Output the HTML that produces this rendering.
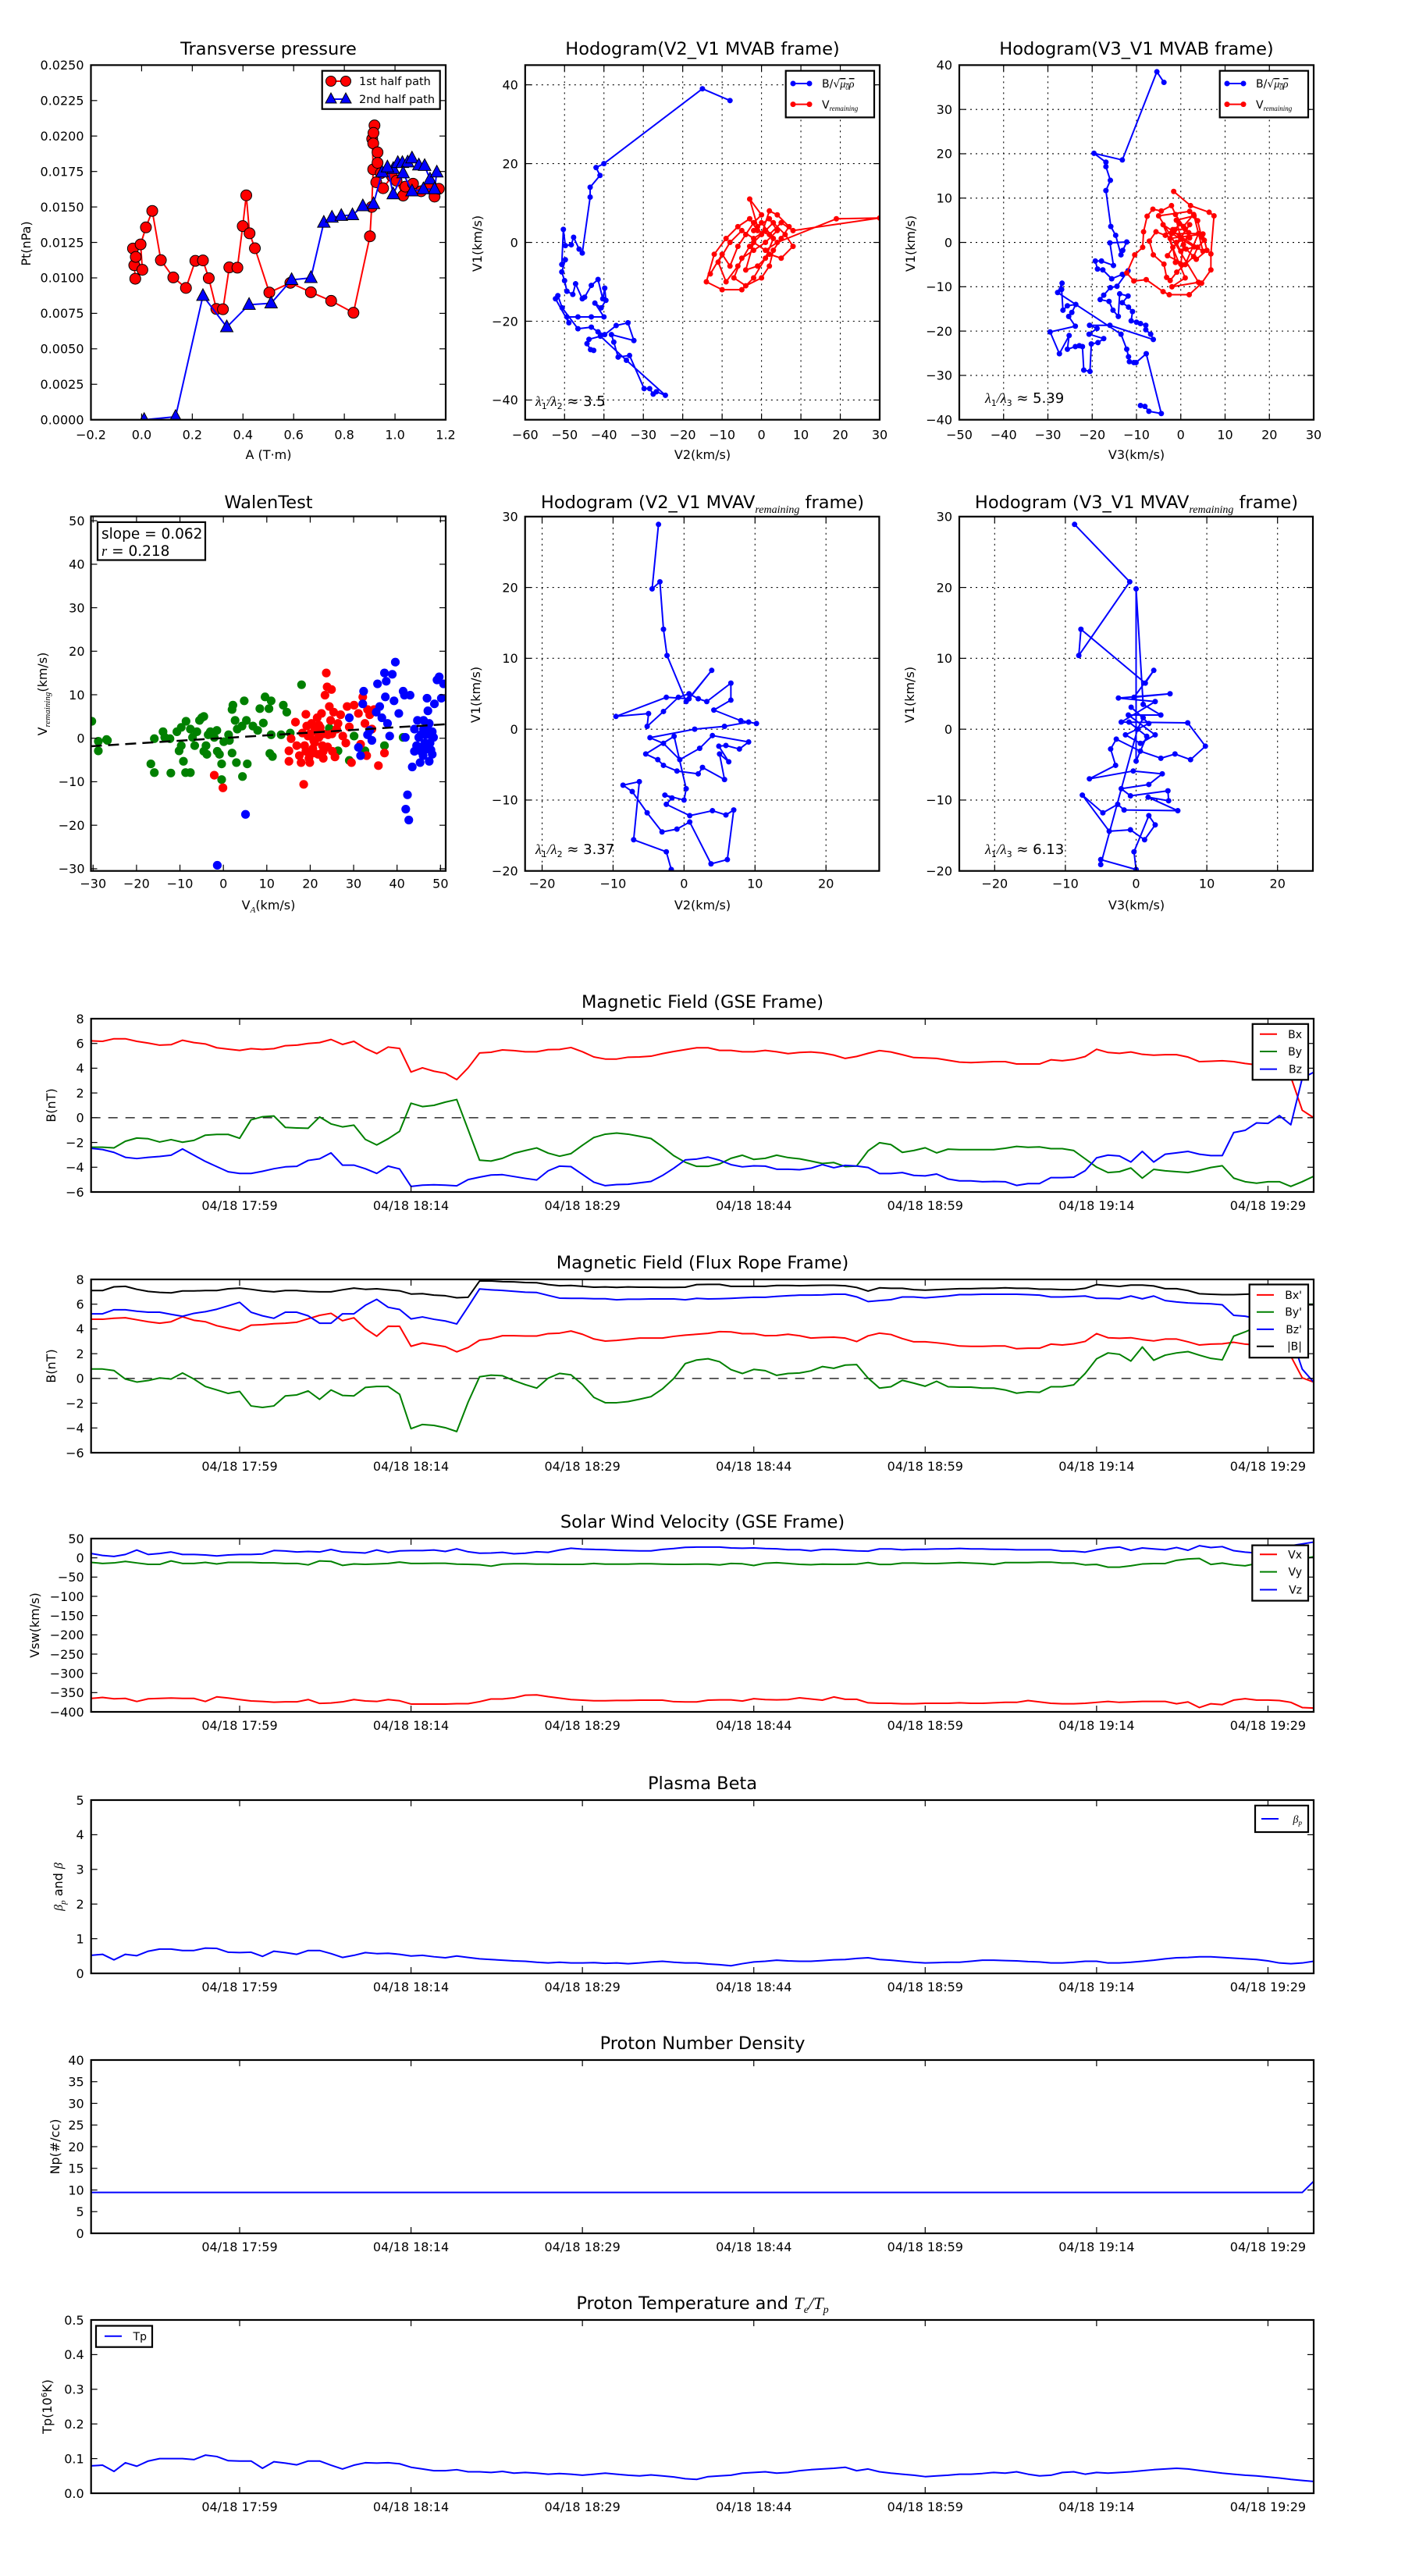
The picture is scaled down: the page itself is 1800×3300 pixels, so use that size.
<!DOCTYPE html>
<html><head><meta charset="utf-8"><title>Flux rope analysis</title>
<style>
html,body{margin:0;padding:0;background:#fff;}
#wrap{width:1800px;height:3300px;position:relative;overflow:hidden;}
svg text{font-family:"DejaVu Sans","Liberation Sans",sans-serif;fill:#000;}
.ttl{font-size:22.5px;}
.lab{font-size:16px;}
.leg{font-size:14.5px;}
.mth{font-family:"Liberation Serif","DejaVu Serif",serif;font-style:italic;}
</style></head>
<body>
<div id="wrap">
<svg id="chart" width="1800" height="3300" viewBox="0 0 1800 3300" xmlns="http://www.w3.org/2000/svg">
<defs id="defs"></defs>
<rect x="0" y="0" width="1800" height="3300" fill="#fff"/>
<g id="plots"></g>

<!-- titles row 1 -->
<text class="ttl" x="344" y="70" text-anchor="middle">Transverse pressure</text>
<text class="ttl" x="900" y="70" text-anchor="middle">Hodogram(V2_V1 MVAB frame)</text>
<text class="ttl" x="1456" y="70" text-anchor="middle">Hodogram(V3_V1 MVAB frame)</text>
<!-- titles row 2 -->
<text class="ttl" x="344" y="651" text-anchor="middle">WalenTest</text>
<text class="ttl" x="900" y="651" text-anchor="middle">Hodogram (V2_V1 MVAV<tspan class="mth" font-size="14" dy="6">remaining</tspan><tspan dy="-6"> frame)</tspan></text>
<text class="ttl" x="1456" y="651" text-anchor="middle">Hodogram (V3_V1 MVAV<tspan class="mth" font-size="14" dy="6">remaining</tspan><tspan dy="-6"> frame)</tspan></text>

<!-- axis labels row 1 -->
<text class="lab" x="344" y="588" text-anchor="middle">A (T·m)</text>
<text class="lab" x="900" y="588" text-anchor="middle">V2(km/s)</text>
<text class="lab" x="1456" y="588" text-anchor="middle">V3(km/s)</text>
<text class="lab" x="39" y="312" text-anchor="middle" transform="rotate(-90 39 312)">Pt(nPa)</text>
<text class="lab" x="617" y="312" text-anchor="middle" transform="rotate(-90 617 312)">V1(km/s)</text>
<text class="lab" x="1172" y="312" text-anchor="middle" transform="rotate(-90 1172 312)">V1(km/s)</text>
<!-- axis labels row 2 -->
<text class="lab" x="344" y="1165" text-anchor="middle">V<tspan class="mth" font-size="11" dy="4">A</tspan><tspan dy="-4">(km/s)</tspan></text>
<text class="lab" x="900" y="1165" text-anchor="middle">V2(km/s)</text>
<text class="lab" x="1456" y="1165" text-anchor="middle">V3(km/s)</text>
<text class="lab" x="60" y="889" text-anchor="middle" transform="rotate(-90 60 889)">V<tspan class="mth" font-size="11" dy="4">remaining</tspan><tspan dy="-4">(km/s)</tspan></text>
<text class="lab" x="615" y="890" text-anchor="middle" transform="rotate(-90 615 890)">V1(km/s)</text>
<text class="lab" x="1171" y="890" text-anchor="middle" transform="rotate(-90 1171 890)">V1(km/s)</text>

<!-- annotations -->
<text x="686" y="520" font-size="18"><tspan class="mth">λ</tspan><tspan font-size="11" dy="4">1</tspan><tspan class="mth" dy="-4">/λ</tspan><tspan font-size="11" dy="4">2</tspan><tspan dy="-4"> ≈ 3.5</tspan></text>
<text x="1262" y="516" font-size="18"><tspan class="mth">λ</tspan><tspan font-size="11" dy="4">1</tspan><tspan class="mth" dy="-4">/λ</tspan><tspan font-size="11" dy="4">3</tspan><tspan dy="-4"> ≈ 5.39</tspan></text>
<text x="686" y="1094" font-size="18"><tspan class="mth">λ</tspan><tspan font-size="11" dy="4">1</tspan><tspan class="mth" dy="-4">/λ</tspan><tspan font-size="11" dy="4">2</tspan><tspan dy="-4"> ≈ 3.37</tspan></text>
<text x="1262" y="1094" font-size="18"><tspan class="mth">λ</tspan><tspan font-size="11" dy="4">1</tspan><tspan class="mth" dy="-4">/λ</tspan><tspan font-size="11" dy="4">3</tspan><tspan dy="-4"> ≈ 6.13</tspan></text>

<!-- time series titles and labels -->
<text class="ttl" x="900" y="1291" text-anchor="middle">Magnetic Field (GSE Frame)</text>
<text class="ttl" x="900" y="1625" text-anchor="middle">Magnetic Field (Flux Rope Frame)</text>
<text class="ttl" x="900" y="1957" text-anchor="middle">Solar Wind Velocity (GSE Frame)</text>
<text class="ttl" x="900" y="2292" text-anchor="middle">Plasma Beta</text>
<text class="ttl" x="900" y="2625" text-anchor="middle">Proton Number Density</text>
<text class="ttl" x="900" y="2958" text-anchor="middle">Proton Temperature and <tspan class="mth">T</tspan><tspan class="mth" font-size="14" dy="5">e</tspan><tspan class="mth" dy="-5">/T</tspan><tspan class="mth" font-size="14" dy="5">p</tspan></text>
<text class="lab" x="71" y="1416" text-anchor="middle" transform="rotate(-90 71 1416)">B(nT)</text>
<text class="lab" x="71" y="1750" text-anchor="middle" transform="rotate(-90 71 1750)">B(nT)</text>
<text class="lab" x="50" y="2082" text-anchor="middle" transform="rotate(-90 50 2082)">Vsw(km/s)</text>
<text class="lab" x="80" y="2417" text-anchor="middle" transform="rotate(-90 80 2417)"><tspan class="mth">β</tspan><tspan class="mth" font-size="11" dy="4">p</tspan><tspan dy="-4"> and </tspan><tspan class="mth">β</tspan></text>
<text class="lab" x="76" y="2750" text-anchor="middle" transform="rotate(-90 76 2750)">Np(#/cc)</text>
<text class="lab" x="66" y="3083" text-anchor="middle" transform="rotate(-90 66 3083)">Tp(10<tspan font-size="10" dy="-6">6</tspan><tspan dy="6">K)</tspan></text>
</svg>
</div>
<script>
// ================= DATA =================
// Transverse pressure
const redA=[-0.025,-0.034,-0.029,-0.023,0.003,-0.004,0.017,0.042,0.076,0.125,0.175,0.212,0.242,0.265,0.295,0.321,0.346,0.378,0.399,0.413,0.426,0.447,0.504,0.587,0.668,0.748,0.836,0.901,0.908,0.914,0.91,0.919,0.915,0.914,0.931,0.931,0.944,0.926,0.953,0.988,1.006,1.032,1.041,1.071,1.103,1.138,1.156,1.173];
const redPt=[0.00994,0.01207,0.01089,0.01148,0.01057,0.01236,0.01356,0.01472,0.01125,0.01003,0.00929,0.0112,0.01123,0.00998,0.00781,0.00779,0.01074,0.01072,0.01365,0.01582,0.01314,0.01209,0.00897,0.00965,0.00899,0.00838,0.00754,0.01293,0.015,0.01765,0.0198,0.02075,0.02022,0.01948,0.01885,0.01811,0.01738,0.01674,0.01632,0.01717,0.01685,0.0158,0.01643,0.01664,0.01611,0.01643,0.01573,0.01628];
const blueA=[0.01,0.134,0.242,0.336,0.424,0.511,0.592,0.668,0.719,0.751,0.788,0.832,0.873,0.915,0.949,0.993,1.011,1.029,1.05,1.067,1.094,1.117,1.138,1.165,1.156,1.112,1.067,1.032,0.993,0.97];
const bluePt=[0.0,0.00021,0.00874,0.00653,0.00811,0.00821,0.00986,0.01,0.0139,0.01426,0.01438,0.01443,0.01506,0.01521,0.01744,0.01769,0.01811,0.01811,0.01815,0.01843,0.01794,0.0179,0.01695,0.01744,0.01626,0.01626,0.01611,0.01738,0.0159,0.0178];
const pressXTicks=[-0.2,0,0.2,0.4,0.6,0.8,1.0,1.2];
const pressXLabels=['-0.2','0.0','0.2','0.4','0.6','0.8','1.0','1.2'];
const pressYTicks=[0,0.0025,0.005,0.0075,0.01,0.0125,0.015,0.0175,0.02,0.0225,0.025];
const pressYLabels=['0.0000','0.0025','0.0050','0.0075','0.0100','0.0125','0.0150','0.0175','0.0200','0.0225','0.0250'];

// Hodogram V2-V1 MVAB
const h1bx=[-8,-15,-40,-42,-41,-43.5,-43.5,-45.5,-46.3,-47.7,-48.3,-49.8,-50.3,-50.7,-49.8,-50.7,-50,-49.4,-47.9,-47.2,-45.5,-44.9,-43.2,-41.5,-40.3,-39.8,-39.5,-40.7,-42.3,-40,-43.2,-46.6,-49.4,-48.9,-52.3,-51.7,-50.6,-46.6,-43.2,-41.5,-39.8,-36.9,-33.9,-32.4,-38.1,-37.5,-36.4,-33.5,-29.8,-28.4,-27.5,-26.7,-24.4,-34.3,-40.9,-43.8,-44.3,-43.4,-42.6];
const h1by=[36,39,20,19,17,14,11.5,-2.7,-1.7,1.3,-0.6,-0.8,3.3,-5.6,-4.4,-7.5,-9.7,-12.4,-13.2,-10.5,-14.3,-13.9,-10.9,-9.4,-14.3,-11.6,-14.7,-16.6,-15.4,-18.9,-18.9,-18.9,-18.9,-20.4,-14.3,-13.5,-16.6,-21.9,-21.5,-22.7,-23.4,-21.1,-20.4,-24.9,-23.4,-25.3,-29.1,-28.7,-37.1,-37.1,-38.5,-37.9,-38.8,-29.9,-23.8,-24.6,-25.7,-27.2,-27.4];
const h1rx=[-13,-10,-8,-6,-4,-2,0,-3,-1,2,4,1,-2,-5,-7,-4,0,2,3,5,7,4,2,0,-3,-6,-9,-11,-8,-5,-2,1,3,6,8,5,2,-1,-4,-2,1,4,19,30,8,5,2,-1,-3,-6,-9,-12,-14,-10,-5,-2,1,3,0,-2];
const h1ry=[-8,-3,-6,-1,2,5,7,11,4,6,3,0,-2,-4,-9,-11,-9,-6,-2,1,4,7,8,2,-1,-6,-10,-5,0,3,1,3,5,2,-1,-4,-3,-6,-7,0,-2,0,6,6.2,3,5,2,3,6,4,1,-3,-10,-12,-12,-9,-4,1,5,3];
const h1XTicks=[-60,-50,-40,-30,-20,-10,0,10,20,30];
const h1XLabels=['-60','-50','-40','-30','-20','-10','0','10','20','30'];
const h1YTicks=[-40,-20,0,20,40];
const h1YLabels=['-40','-20','0','20','40'];

// Hodogram V3-V1 MVAB
const h3bx=[-3.8,-5.4,-13.2,-19.6,-16.9,-16.9,-15.9,-16.9,-15.8,-14.7,-13.5,-13.1,-12.2,-16,-15.2,-17.9,-19.3,-18.8,-17.6,-15.6,-13.2,-11.9,-14.4,-15.9,-17.4,-18.2,-16.2,-15.3,-14.1,-13.8,-11.9,-13.2,-11.8,-10.9,-11.2,-10,-9.1,-7.9,-7.9,-6.8,-6.2,-16,-20.6,-18.9,-20.7,-17.4,-18.7,-20.2,-20.5,-21.9,-22.2,-22.9,-23.8,-25.6,-25.2,-27.4,-29.5,-23.8,-25.3,-24.6,-23.7,-25.6,-26.6,-26.9,-26.8,-27.8,-13.5,-12.2,-11.8,-11.6,-10.6,-10.1,-7.8,-4.4,-7.2,-8.1,-9.1];
const h3by=[36.1,38.5,18.6,20.1,18.1,17.1,14,11.7,3.6,1.6,-2.8,-1.8,0.1,-0.1,-5.2,-4.2,-4.2,-6,-6.2,-8.2,-7.2,-6.4,-9.9,-10.2,-11.9,-12.9,-13.3,-15.3,-16.7,-11.6,-12.1,-13.6,-14.6,-15.6,-17.7,-18,-18.3,-18.7,-19.7,-20.7,-21.9,-18.7,-18.7,-19.4,-20.7,-21.7,-22.6,-22.9,-29.1,-28.8,-23.5,-23.3,-23.5,-24.1,-21,-25.1,-20.2,-18.9,-16.7,-15.8,-14,-14.3,-15.3,-10.6,-9.2,-11.3,-20.7,-24.1,-25.8,-26.9,-27.1,-27.1,-25.1,-38.6,-38.1,-37,-36.8];
const h3rx=[-1.6,2.2,6.4,7.5,6.8,6.8,4.7,1.9,-2.6,-4,-7.8,-10.6,-12.2,-10.4,-8.6,-8.4,-7.6,-6.3,-4.4,-2.1,-1.2,0.6,2.9,3.8,4.7,5.3,3.8,2.9,-0.9,-2.4,-3.2,-3.8,-6.2,-7.1,-5.6,-3.5,-1.8,0,1.2,3.5,5.9,5,-2.4,-1.8,-1.2,0,0.6,1.8,-0.3,-1.3,1,2,-1,0,3,-2,4,1,-3,2,0,-1,3,5,-4,1,-2,4,-5,2];
const h3ry=[11.5,8.3,6.8,6,-2.6,-6.2,-9.2,-11.8,-11.8,-11.1,-8.4,-8.7,-6.9,-2.8,-1.1,2.4,5.9,7.5,7.1,8.3,6.3,3.6,6.3,4.9,1.2,0.5,-1.1,-3.2,-6.7,-8.6,-7.9,-4.9,-2.8,0.3,2.4,1.6,2.9,0.9,-1.5,-3.8,-1.8,1.9,0.9,-1.1,-4.5,-4.9,-0.5,2.2,4.2,2.9,3,1,0,-2,-1,2,2,-5,-3,4,1,5,6,-2,4,-8,-10,-9,6,7];
const h3XTicks=[-50,-40,-30,-20,-10,0,10,20,30];
const h3XLabels=['-50','-40','-30','-20','-10','0','10','20','30'];
const h3YTicks=[-40,-30,-20,-10,0,10,20,30,40];
const h3YLabels=['-40','-30','-20','-10','0','10','20','30','40'];

// Walen test
const walenGreen=[[-30.3,3.9],[-28.8,-0.7],[-28.8,-2.9],[-26.9,-0.3],[-26.7,-0.5],[-16.7,-5.9],[-15.9,-7.9],[-15.9,-0.1],[-13.9,1.5],[-13.5,0.2],[-12.3,-0.1],[-12.1,-8.0],[-10.7,1.5],[-10.2,-2.9],[-9.7,2.5],[-9.7,-1.7],[-9.2,-5.3],[-8.7,-7.9],[-8.6,3.9],[-7.6,-7.9],[-7.6,2.1],[-7.1,0.2],[-6.6,-1.7],[-6.1,1.5],[-5.5,4.1],[-5.0,4.7],[-4.5,5.0],[-4.5,-3.0],[-4.0,-1.7],[-3.8,-3.7],[-3.5,0.8],[-3.0,1.5],[-2.1,0.2],[-1.5,1.8],[-1.4,-3.0],[-0.9,-3.7],[-0.4,-5.9],[-0.4,-9.5],[0.1,-0.8],[1.2,0.8],[1.4,-0.5],[2.0,-3.4],[2.0,6.6],[2.2,7.6],[2.7,4.1],[3.0,-5.6],[3.2,2.1],[4.3,2.8],[4.4,-8.8],[4.8,8.6],[5.3,4.1],[5.5,-5.9],[6.8,2.8],[7.9,1.8],[8.4,6.8],[9.2,3.5],[9.6,9.5],[10.5,6.8],[11.0,8.6],[11.0,0.8],[10.7,-3.5],[11.3,-4.2],[13.3,0.8],[13.8,7.6],[14.6,6.0],[15.4,1.2],[18.0,12.3],[24.4,2.3],[26.4,-2.9],[29.0,-5.1],[30.1,0.5],[37.1,-1.7],[41.4,0.2],[32.6,-2.9]];
const walenRed=[[-2.1,-8.5],[-0.1,-11.4],[15.1,-5.3],[15.1,-2.9],[15.6,-0.1],[16.6,3.7],[16.9,-1.7],[17.5,-4.0],[17.9,-5.6],[18.2,1.2],[18.7,-1.7],[19.0,5.5],[19.2,2.8],[19.5,0.5],[19.7,-4.6],[19.9,-5.6],[20.3,3.4],[20.6,-2.4],[20.8,-0.5],[21.3,1.5],[21.6,4.7],[21.8,-3.7],[22.0,0.2],[22.3,2.5],[22.6,5.7],[22.8,-1.7],[23.0,-4.6],[23.4,9.9],[23.7,15.0],[23.9,11.8],[24.1,0.8],[24.4,7.3],[24.7,4.1],[24.9,11.2],[25.1,-3.0],[25.4,6.0],[25.7,-4.3],[26.1,2.1],[26.4,3.4],[27.0,5.4],[27.5,0.5],[28.2,-1.1],[28.5,7.3],[29.0,2.6],[29.5,-5.6],[30.1,7.6],[31.1,5.7],[31.6,-1.4],[32.1,9.5],[32.6,3.4],[33.0,-4.0],[33.2,6.6],[33.7,5.4],[34.2,2.1],[34.7,6.6],[35.7,-6.3],[37.1,-3.4],[18.5,-10.6],[20.8,-3.4],[20,1],[21,-1],[22,3],[23,1],[24,-2],[19,-3],[21,2.5],[23,-3],[25,1]];
const walenBlue=[[-1.4,-29.2],[5.1,-17.5],[29.0,4.7],[31.1,-2.1],[31.6,-4.0],[32.1,7.9],[32.3,10.8],[33.2,0.8],[33.7,1.8],[34.2,-0.5],[35.2,6.0],[35.5,12.5],[36.0,7.3],[36.5,4.7],[37.1,15.0],[37.3,9.5],[37.5,13.1],[37.8,3.4],[38.3,0.5],[38.9,14.7],[39.3,8.6],[39.6,17.5],[40.4,5.7],[41.4,10.8],[41.7,9.9],[41.9,0.2],[42.4,-13.0],[42.0,-16.3],[42.7,-18.8],[43.0,9.9],[43.5,-6.6],[44.0,2.1],[44.5,-1.7],[44.7,4.1],[45.0,0.2],[45.3,-5.6],[45.5,-3.0],[46.1,2.1],[46.4,-1.1],[46.6,-1.7],[46.9,9.2],[47.1,6.3],[47.4,3.4],[47.6,0.8],[47.8,-2.7],[48.1,-3.7],[47.4,-5.3],[48.6,7.9],[49.2,13.4],[49.7,14.1],[50.2,9.2],[50.7,12.5],[46.1,4.1],[46.6,0.8],[47.1,2.1],[47.6,-1.1],[48.1,1.5],[45.5,0.8],[48.4,0.2],[45,-2],[46,-4],[47,-2.5],[44,-3]];
const walenSlope=0.062;
const walenIntercept=0.05;
const walenXTicks=[-30,-20,-10,0,10,20,30,40,50];
const walenXLabels=['-30','-20','-10','0','10','20','30','40','50'];
const walenYTicks=[-30,-20,-10,0,10,20,30,40,50];
const walenYLabels=['-30','-20','-10','0','10','20','30','40','50'];

// Hodogram MVAV
const h4x=[-3.6,-4.5,-3.4,-2.9,-2.4,0.3,3.9,0.7,-2.5,-9.6,-5,-5.2,-2.9,-0.8,0.7,2,3.2,6.6,6.6,4.2,8,10.2,9.1,5.7,1.5,-4.8,-2.9,-0.6,2.2,4,9.1,7.8,5.9,4.9,6.3,5,5.7,2.6,2,-1,-2.9,-3.7,-5.4,-1.4,0.3,0,-2.7,-1.7,-2.5,0.8,4,5.9,7,6.1,3.8,0.8,-1,-3.1,-5.2,-7.3,-8.6,-6.3,-7.1,-2.5,-1.8];
const h4y=[28.9,19.8,20.8,14.1,10.4,3.9,8.3,4.3,4.5,1.8,2.2,0.4,2.5,4.5,5,4.3,3.9,6.5,4.1,2.7,1.2,0.8,1,0.4,0,-1.2,-2,-4.3,-2.7,-0.9,-1.8,-2.8,-2.3,-2.4,-4.6,-3.5,-7.1,-5.4,-6.3,-5.9,-5.1,-4.3,-3.5,-1,-8.4,-10,-9.3,-9.7,-10.6,-12.2,-11.5,-12.1,-11.4,-18.4,-19,-13.1,-14.1,-14.5,-11.8,-8.8,-7.9,-7.4,-15.6,-17.3,-19.8];
const h5x=[-8.7,-0.9,-8.1,-7.8,1.3,2.5,-0.3,4.8,-2.5,2.7,-2.1,7.3,9.8,7.7,5.5,3.5,0.6,-2.8,-3.6,-2.9,-6.6,-0.4,3.7,1.8,-2.1,-0.8,4.5,4.6,1.7,5.9,-1.7,-2.6,-4.7,-7.6,-3.8,-0.8,1.2,2.7,1.8,-0.3,0,-5,-5,0.2,1,-0.7,1.8,-1.5,0.6,2.7,-1.1,3.5,1,0,0,1.5,-1];
const h5y=[28.9,20.8,10.4,14.1,6.5,8.3,4.5,5,4.4,3.9,1,0.9,-2.4,-4.3,-3.5,-4.1,-3.1,-1.4,-2.8,-5.1,-7,-5.9,-6.3,-7.8,-8.4,-9.4,-8.7,-10.1,-9.6,-11.5,-11.4,-10.6,-11.8,-9.3,-14.4,-14.2,-15.6,-13.5,-12.2,-17.3,-19.8,-18.4,-19.1,0,1.6,3.1,0.8,-0.8,-2,-0.8,2,2,3.5,19.8,-4.5,-1,1];
const mvavXTicks=[-20,-10,0,10,20];
const mvavXLabels=['-20','-10','0','10','20'];
const mvavYTicks=[-20,-10,0,10,20,30];
const mvavYLabels=['-20','-10','0','10','20','30'];

// Time series (one sample per minute, minute 0 = 17:46)
const timeTicks=[13,28,43,58,73,88,103];
const timeLabels=['04/18 17:59','04/18 18:14','04/18 18:29','04/18 18:44','04/18 18:59','04/18 19:14','04/18 19:29'];
const bxGse=[6.21,6.17,6.38,6.38,6.17,6.03,5.86,5.9,6.26,6.07,5.96,5.65,5.54,5.44,5.58,5.52,5.58,5.82,5.86,6.0,6.07,6.32,5.92,6.17,5.6,5.18,5.71,5.6,3.69,4.03,3.76,3.59,3.08,4.03,5.23,5.29,5.48,5.42,5.33,5.33,5.5,5.52,5.67,5.33,4.91,4.74,4.74,4.89,4.91,4.97,5.18,5.35,5.5,5.65,5.65,5.44,5.44,5.33,5.33,5.44,5.33,5.18,5.27,5.31,5.23,5.06,4.79,4.95,5.2,5.42,5.31,5.09,4.86,4.83,4.79,4.64,4.49,4.45,4.49,4.53,4.53,4.34,4.34,4.34,4.68,4.6,4.71,4.94,5.53,5.27,5.2,5.31,5.12,5.05,5.09,5.09,4.9,4.53,4.56,4.6,4.53,4.38,4.27,4.2,4.1,3.3,0.6,0.0];
const byGse=[-2.38,-2.38,-2.44,-1.9,-1.64,-1.7,-1.96,-1.77,-1.98,-1.83,-1.41,-1.35,-1.35,-1.66,-0.17,0.08,0.14,-0.78,-0.83,-0.85,0.06,-0.5,-0.74,-0.6,-1.75,-2.2,-1.7,-1.1,1.17,0.9,1.0,1.26,1.47,-0.97,-3.43,-3.5,-3.28,-2.88,-2.65,-2.44,-2.86,-3.11,-2.9,-2.23,-1.6,-1.33,-1.24,-1.33,-1.5,-1.68,-2.34,-3.07,-3.6,-3.93,-3.93,-3.74,-3.28,-3.03,-3.37,-3.28,-3.03,-3.22,-3.32,-3.5,-3.7,-3.62,-3.95,-3.9,-2.68,-2.02,-2.17,-2.8,-2.65,-2.43,-2.84,-2.54,-2.58,-2.58,-2.58,-2.58,-2.47,-2.32,-2.39,-2.36,-2.5,-2.5,-2.65,-3.32,-3.99,-4.43,-4.36,-4.06,-4.88,-4.17,-4.29,-4.36,-4.43,-4.25,-4.02,-3.88,-4.88,-5.17,-5.29,-5.17,-5.17,-5.55,-5.17,-4.73];
const bzGse=[-2.48,-2.57,-2.8,-3.2,-3.3,-3.2,-3.13,-3.03,-2.52,-3.03,-3.53,-3.95,-4.37,-4.5,-4.5,-4.33,-4.12,-3.97,-3.93,-3.45,-3.32,-2.84,-3.83,-3.83,-4.12,-4.5,-3.91,-4.14,-5.55,-5.45,-5.42,-5.45,-5.5,-5.0,-4.8,-4.63,-4.6,-4.75,-4.9,-5.03,-4.29,-3.91,-3.95,-4.58,-5.21,-5.49,-5.4,-5.38,-5.26,-5.15,-4.67,-4.08,-3.41,-3.34,-3.18,-3.43,-3.79,-3.97,-3.89,-3.91,-4.16,-4.16,-4.2,-4.08,-3.79,-4.04,-3.85,-3.9,-4.02,-4.51,-4.51,-4.43,-4.66,-4.7,-4.55,-4.95,-5.1,-5.1,-5.17,-5.15,-5.17,-5.47,-5.32,-5.32,-4.84,-4.84,-4.8,-4.28,-3.24,-3.02,-3.09,-3.58,-2.72,-3.58,-2.95,-2.84,-2.72,-2.95,-3.06,-3.06,-1.2,-1.02,-0.42,-0.46,0.17,-0.57,3.19,3.67];
const bxFr=[4.78,4.78,4.86,4.9,4.74,4.58,4.46,4.58,4.98,4.7,4.58,4.26,4.06,3.86,4.3,4.34,4.42,4.46,4.54,4.82,5.1,5.26,4.66,4.9,4.02,3.41,4.22,4.21,2.6,2.86,2.72,2.57,2.15,2.5,3.09,3.21,3.45,3.45,3.43,3.43,3.62,3.66,3.83,3.57,3.19,3.02,3.07,3.17,3.26,3.26,3.26,3.4,3.5,3.57,3.64,3.78,3.76,3.62,3.62,3.45,3.47,3.57,3.45,3.26,3.31,3.33,3.26,2.98,3.44,3.66,3.55,3.22,2.96,2.96,2.88,2.77,2.62,2.59,2.59,2.62,2.62,2.4,2.44,2.44,2.77,2.7,2.8,2.99,3.62,3.29,3.25,3.29,3.14,3.03,3.18,3.18,2.96,2.7,2.77,2.8,2.92,2.77,2.7,2.7,2.5,1.8,0.05,-0.3];
const byFr=[0.76,0.76,0.64,-0.05,-0.29,-0.17,0.04,-0.05,0.44,-0.05,-0.65,-0.93,-1.21,-1.05,-2.22,-2.34,-2.22,-1.41,-1.33,-1.01,-1.69,-0.93,-1.37,-1.41,-0.73,-0.65,-0.65,-1.28,-4.06,-3.72,-3.79,-3.98,-4.29,-1.91,0.13,0.27,0.22,-0.17,-0.5,-0.78,0.02,0.41,0.29,-0.49,-1.53,-1.96,-1.96,-1.87,-1.68,-1.47,-0.85,0.0,1.2,1.49,1.59,1.35,0.71,0.4,0.73,0.63,0.25,0.4,0.44,0.61,0.96,0.82,1.08,1.12,0.03,-0.78,-0.67,-0.15,-0.38,-0.63,-0.23,-0.67,-0.7,-0.7,-0.78,-0.78,-0.93,-1.19,-1.08,-1.12,-0.67,-0.67,-0.52,0.4,1.58,2.06,1.95,1.4,2.54,1.47,1.88,2.06,2.17,1.88,1.62,1.5,3.42,3.76,4.17,4.5,5.2,5.9,6.0,6.0];
const bzFr=[5.22,5.22,5.55,5.55,5.43,5.35,5.35,5.18,5.02,5.26,5.39,5.59,5.87,6.15,5.35,5.06,4.86,5.35,5.35,5.06,4.46,4.46,5.22,5.22,5.91,6.39,5.75,5.57,4.81,4.97,4.78,4.64,4.4,5.8,7.23,7.16,7.11,7.04,6.97,6.94,6.71,6.49,6.47,6.47,6.44,6.44,6.35,6.4,6.4,6.42,6.42,6.42,6.35,6.47,6.42,6.44,6.47,6.52,6.56,6.56,6.63,6.68,6.73,6.73,6.75,6.8,6.8,6.59,6.21,6.29,6.36,6.58,6.58,6.51,6.58,6.66,6.77,6.77,6.8,6.8,6.8,6.8,6.77,6.73,6.58,6.58,6.62,6.66,6.47,6.47,6.43,6.66,6.43,6.66,6.29,6.18,6.1,6.06,6.03,5.95,5.1,5.03,4.84,4.8,4.6,3.5,0.75,-0.3];
const bmagFr=[7.1,7.1,7.4,7.44,7.2,7.03,6.95,6.91,7.07,7.07,7.1,7.1,7.24,7.3,7.2,7.07,7.0,7.1,7.1,7.03,7.0,7.0,7.16,7.3,7.2,7.24,7.16,7.08,6.82,6.85,6.73,6.68,6.52,6.56,7.87,7.87,7.82,7.8,7.75,7.73,7.58,7.49,7.51,7.44,7.37,7.39,7.35,7.39,7.37,7.37,7.35,7.35,7.37,7.58,7.6,7.6,7.44,7.44,7.44,7.44,7.51,7.51,7.49,7.51,7.53,7.53,7.49,7.35,7.06,7.32,7.28,7.28,7.17,7.13,7.17,7.21,7.25,7.25,7.28,7.28,7.32,7.28,7.28,7.21,7.21,7.17,7.17,7.28,7.58,7.5,7.43,7.54,7.54,7.47,7.25,7.25,7.1,6.84,6.8,6.77,6.77,6.8,6.84,6.5,6.2,6.0,5.95,5.95];
const vxGse=[-365,-362.6,-366,-365,-373,-366,-365,-364,-365,-365,-373,-361,-364,-368,-371.6,-373,-375,-374,-374,-368,-378,-377,-374,-368,-371.6,-373,-368,-371.2,-379.6,-379.6,-379.6,-379.6,-378.8,-378.8,-373.5,-366.6,-366.6,-363.6,-356.7,-356,-360.5,-364.3,-368.1,-369.6,-371.2,-371.2,-370.4,-370.4,-369.6,-369.6,-369.6,-373.5,-374.2,-374.2,-369.6,-368.9,-368.9,-371.9,-365.8,-368.1,-368.9,-368.1,-363.6,-366.6,-369.6,-361.3,-367.3,-367.3,-376.5,-377.7,-377.7,-378.9,-378.9,-377.7,-377.7,-377.7,-376.5,-377.7,-377.7,-376.5,-375.3,-375.3,-370.6,-374.1,-377.7,-378.9,-378.9,-377.7,-375.3,-372.9,-375.3,-374.1,-372.9,-372.9,-372.9,-378.9,-374.1,-388.8,-378.9,-381.2,-369.4,-365.8,-369.4,-369.4,-370.6,-375.3,-388.8,-390];
const vyGse=[-11.9,-14.5,-13.2,-9.3,-13.2,-17,-17,-8,-14.5,-14.5,-11.9,-15.8,-11.9,-11.9,-11.9,-13.2,-13.2,-14.5,-14.5,-18.3,-8,-9.3,-19.6,-15.8,-17,-15.8,-14.5,-11,-14.7,-14.7,-14,-14,-16.3,-17,-17.8,-21.6,-16.3,-15.5,-15.5,-16.3,-16.3,-17,-17,-17,-14.7,-16.3,-16.3,-16.3,-15.5,-15.5,-16.3,-17,-17,-16.3,-16.3,-18.5,-14.7,-15.5,-20,-14,-12.5,-14.7,-17,-17.8,-16.3,-17,-17,-16.3,-12.4,-17.1,-17.1,-13.6,-13.6,-14.8,-14.8,-13.6,-12.4,-13.6,-14.8,-17.1,-12.4,-12.4,-12.4,-11.2,-11.2,-13.6,-13.6,-18.3,-17.1,-24.2,-24.2,-20.7,-16,-14.8,-14.8,-6.4,-2.9,-1.7,-17.1,-13.6,-18.3,-20.7,-14.8,-8.8,-2.9,3,-2.9,3];
const vzGse=[11.3,6.2,3.6,8.7,20.3,8.7,11.3,15.2,8.7,8.7,7.5,4.9,7.5,8.7,8.7,10,19,17.7,15.2,16.5,15.2,21.6,15.2,13.9,12.6,20.3,13.9,18,18.8,18.8,20.3,16.5,23.3,15.7,11.9,12.6,14.2,10.4,11.9,15.7,14.2,20.3,24.9,22.6,21.8,21.1,19.6,18.8,18,18,21.8,24.1,27.1,27.9,27.9,27.9,25.6,24.9,25.6,24.1,23.3,21.1,21.1,18,21.8,21.8,19.6,18,17.3,23.2,23.2,20.8,22,22,23.2,23.2,24.4,23.2,23.2,22,22,20.8,20.8,20.8,20.8,17.3,17.3,14.9,20.8,25.6,28,19.6,25.6,23.2,20.8,26.8,19.6,31.5,26.8,29.1,18.5,14.9,12.5,17.3,26.8,31.5,36.2,41];
const betaP=[0.52,0.55,0.39,0.55,0.51,0.64,0.7,0.7,0.66,0.66,0.73,0.72,0.61,0.6,0.61,0.49,0.64,0.6,0.55,0.66,0.66,0.57,0.46,0.52,0.6,0.57,0.58,0.55,0.5,0.52,0.48,0.45,0.5,0.46,0.42,0.4,0.38,0.36,0.35,0.32,0.3,0.32,0.3,0.3,0.31,0.29,0.3,0.28,0.3,0.33,0.35,0.32,0.3,0.3,0.27,0.25,0.22,0.28,0.33,0.35,0.38,0.36,0.35,0.35,0.37,0.39,0.4,0.43,0.45,0.4,0.38,0.35,0.32,0.3,0.31,0.32,0.32,0.35,0.38,0.38,0.37,0.36,0.34,0.33,0.3,0.3,0.32,0.35,0.35,0.3,0.3,0.32,0.35,0.38,0.42,0.45,0.46,0.48,0.48,0.46,0.44,0.42,0.4,0.36,0.3,0.28,0.3,0.35];
const npTimes=[0,106,107];
const npVals=[9.43,9.43,12.0];
const tpVals=[0.079,0.081,0.063,0.088,0.078,0.093,0.1,0.1,0.1,0.097,0.11,0.106,0.094,0.093,0.093,0.072,0.091,0.087,0.082,0.093,0.093,0.081,0.07,0.081,0.088,0.087,0.088,0.085,0.075,0.07,0.065,0.065,0.068,0.062,0.062,0.06,0.063,0.058,0.06,0.058,0.055,0.057,0.055,0.052,0.055,0.058,0.055,0.052,0.05,0.053,0.05,0.047,0.042,0.04,0.048,0.05,0.052,0.058,0.06,0.062,0.058,0.06,0.065,0.068,0.07,0.072,0.075,0.065,0.07,0.062,0.058,0.055,0.052,0.048,0.05,0.052,0.055,0.055,0.057,0.06,0.058,0.062,0.055,0.05,0.052,0.06,0.062,0.055,0.06,0.058,0.06,0.062,0.065,0.068,0.07,0.072,0.07,0.066,0.062,0.058,0.055,0.052,0.05,0.047,0.044,0.04,0.037,0.034];
const magYTicks=[-6,-4,-2,0,2,4,6,8];
const magYLabels=['-6','-4','-2','0','2','4','6','8'];
const velYTicks=[-400,-350,-300,-250,-200,-150,-100,-50,0,50];
const velYLabels=['-400','-350','-300','-250','-200','-150','-100','-50','0','50'];
const betaYTicks=[0,1,2,3,4,5];
const betaYLabels=['0','1','2','3','4','5'];
const npYTicks=[0,5,10,15,20,25,30,35,40];
const npYLabels=['0','5','10','15','20','25','30','35','40'];
const tpYTicks=[0,0.1,0.2,0.3,0.4,0.5];
const tpYLabels=['0.0','0.1','0.2','0.3','0.4','0.5'];

// ================= DRAWING =================
const NS='http://www.w3.org/2000/svg';
const defs=document.getElementById('defs');
const layer=document.getElementById('plots');
let clipN=0;
function mk(tag,attrs,parent){const e=document.createElementNS(NS,tag);for(const k in attrs)e.setAttribute(k,attrs[k]);parent.appendChild(e);return e;}
function nm(e,n){
  
  
  return e;
}
function fmt(s){return String(s).replace(/-/g,'\u2212');}
function makeAxes(name,x0,y0,x1,y1,xmin,xmax,ymin,ymax){
  const g=mk('g',{},layer); nm(g,name);
  const a={name,x0,y0,x1,y1,xmin,xmax,ymin,ymax,g};
  a.sx=v=>x0+(v-xmin)/(xmax-xmin)*(x1-x0);
  a.sy=v=>y1-(v-ymin)/(ymax-ymin)*(y1-y0);
  const id='clip'+(clipN++);
  const cp=mk('clipPath',{id:id},defs);
  mk('rect',{x:x0,y:y0,width:x1-x0,height:y1-y0},cp);
  a.grid=mk('g',{},g); nm(a.grid,name+'-grid');
  a.data=mk('g',{'clip-path':'url(#'+id+')'},g); nm(a.data,name+'-data');
  a.axis=mk('g',{},g); nm(a.axis,name+'-axis');
  return a;
}
function frame(a){
  const r=mk('rect',{x:a.x0,y:a.y0,width:a.x1-a.x0,height:a.y1-a.y0,fill:'none',stroke:'#000','stroke-width':2.2},a.axis);
  nm(r,a.name+'-frame');
}
function xTicks(a,vals,labels,o){
  vals.forEach((v,i)=>{
    const x=a.sx(v);
    if(o.grid){const gl=mk('line',{x1:x,x2:x,y1:a.y0,y2:a.y1,stroke:'#000','stroke-width':1.1,'stroke-dasharray':'2,5'},a.grid);
      nm(gl,a.name+'-x-gridline');}
    const t1=mk('line',{x1:x,x2:x,y1:a.y1,y2:a.y1-8,stroke:'#000','stroke-width':1.2},a.axis);
    nm(t1,a.name+'-x-tick');
    const t2=mk('line',{x1:x,x2:x,y1:a.y0,y2:a.y0+8,stroke:'#000','stroke-width':1.2},a.axis);
    nm(t2,a.name+'-x-tick-top');
    if(labels){const tx=mk('text',{x:x,y:a.y1+o.dy,'text-anchor':'middle','font-size':o.fs},a.axis);
      tx.textContent=fmt(labels[i]);
      nm(tx,a.name+'-x-tick-label');}
  });
}
function yTicks(a,vals,labels,o){
  vals.forEach((v,i)=>{
    const y=a.sy(v);
    if(o.grid){const gl=mk('line',{x1:a.x0,x2:a.x1,y1:y,y2:y,stroke:'#000','stroke-width':1.1,'stroke-dasharray':'2,5'},a.grid);
      nm(gl,a.name+'-y-gridline');}
    const t1=mk('line',{x1:a.x0,x2:a.x0+8,y1:y,y2:y,stroke:'#000','stroke-width':1.2},a.axis);
    nm(t1,a.name+'-y-tick');
    const t2=mk('line',{x1:a.x1,x2:a.x1-8,y1:y,y2:y,stroke:'#000','stroke-width':1.2},a.axis);
    nm(t2,a.name+'-y-tick-right');
    if(labels){const tx=mk('text',{x:a.x0-(o.gap||9),y:y+o.fs*0.36,'text-anchor':'end','font-size':o.fs},a.axis);
      tx.textContent=fmt(labels[i]);
      nm(tx,a.name+'-y-tick-label');}
  });
}
function line(a,xs,ys,color,w,name,dash){
  const pts=xs.map((x,i)=>a.sx(x).toFixed(2)+','+a.sy(ys[i]).toFixed(2)).join(' ');
  const attrs={points:pts,fill:'none',stroke:color,'stroke-width':w,'stroke-linejoin':'round'};
  if(dash)attrs['stroke-dasharray']=dash;
  const p=mk('polyline',attrs,a.data);
  nm(p,name);
  return p;
}
function dots(a,xs,ys,color,r,name,stroke){
  const g=mk('g',{},a.data); nm(g,name);
  xs.forEach((x,i)=>{
    const c=mk('circle',{cx:a.sx(x).toFixed(2),cy:a.sy(ys[i]).toFixed(2),r:r,fill:color,stroke:stroke||'none','stroke-width':1},g);
    nm(c,name+'-point');
  });
}
function tris(a,xs,ys,color,name){
  const g=mk('g',{},a.data); nm(g,name);
  xs.forEach((x,i)=>{
    const cx=a.sx(x),cy=a.sy(ys[i]);
    const p=mk('polygon',{points:`${cx},${cy-9} ${cx-8},${cy+6} ${cx+8},${cy+6}`,fill:color,stroke:'#000','stroke-width':1},g);
    nm(p,name+'-point');
  });
}
function idx(arr){return arr.map((_,i)=>i);}
function txt(parent,x,y,s,fs,anchor,name){
  const t=mk('text',{x:x,y:y,'font-size':fs,'text-anchor':anchor||'start'},parent);
  t.textContent=s;
  nm(t,name);
  return t;
}
function legendBox(parent,x0,y0,x1,y1,name){
  const r=mk('rect',{x:x0,y:y0,width:x1-x0,height:y1-y0,fill:'#fff',stroke:'#000','stroke-width':2.2},parent);
  nm(r,name);
}

// ---- Transverse pressure ----
{
  const a=makeAxes('pressure-chart',116.5,83.4,571,537.7,-0.2,1.2,0,0.025);
  line(a,redA,redPt,'#ff0000',2,'first-half-path-line');
  dots(a,redA,redPt,'#ff0000',7,'first-half-path-markers','#000');
  line(a,blueA,bluePt,'#0000ff',2,'second-half-path-line');
  tris(a,blueA,bluePt,'#0000ff','second-half-path-markers');
  xTicks(a,pressXTicks,pressXLabels,{fs:16,dy:25});
  yTicks(a,pressYTicks,pressYLabels,{fs:16});
  frame(a);
  const lg=mk('g',{},a.axis); nm(lg,'pressure-legend');
  legendBox(lg,412.7,90.7,563.7,139.7,'pressure-legend-box');
  const l1=mk('line',{x1:424,x2:443,y1:104,y2:104,stroke:'#ff0000','stroke-width':2},lg); nm(l1,'legend-first-half-line');
  [424,443].forEach(x=>{const c=mk('circle',{cx:x,cy:104,r:6.5,fill:'#ff0000',stroke:'#000','stroke-width':1},lg); nm(c,'legend-first-half-marker');});
  txt(lg,460,109,'1st half path',14.5,'start','legend-first-half-label');
  const l2=mk('line',{x1:424,x2:443,y1:127,y2:127,stroke:'#0000ff','stroke-width':2},lg); nm(l2,'legend-second-half-line');
  [424,443].forEach(x=>{const p=mk('polygon',{points:`${x},${119} ${x-7},${132} ${x+7},${132}`,fill:'#0000ff',stroke:'#000','stroke-width':1},lg); nm(p,'legend-second-half-marker');});
  txt(lg,460,132,'2nd half path',14.5,'start','legend-second-half-label');
}
function hodoLegend(parent,dx,prefix){
  const lg=mk('g',{},parent); nm(lg,prefix+'-legend');
  legendBox(lg,1562.7+dx,90.7,1676+dx,150.4,prefix+'-legend-box');
  const l1=mk('line',{x1:1572+dx,x2:1593+dx,y1:107,y2:107,stroke:'#0000ff','stroke-width':2},lg); nm(l1,prefix+'-legend-b-line');
  [1572,1593].forEach(x=>{const c=mk('circle',{cx:x+dx,cy:107,r:3.5,fill:'#0000ff'},lg); nm(c,prefix+'-legend-b-marker');});
  const t1=mk('text',{x:1609+dx,y:112,'font-size':14},lg); nm(t1,prefix+'-legend-b-label');
  t1.innerHTML='B/√<tspan class="mth" text-decoration="overline">μ<tspan font-size="9" dy="3">0</tspan><tspan dy="-3">ρ</tspan></tspan>';
  const l2=mk('line',{x1:1572+dx,x2:1593+dx,y1:133.6,y2:133.6,stroke:'#ff0000','stroke-width':2},lg); nm(l2,prefix+'-legend-v-line');
  [1572,1593].forEach(x=>{const c=mk('circle',{cx:x+dx,cy:133.6,r:3.5,fill:'#ff0000'},lg); nm(c,prefix+'-legend-v-marker');});
  const t2=mk('text',{x:1609+dx,y:139,'font-size':14},lg); nm(t2,prefix+'-legend-v-label');
  t2.innerHTML='V<tspan class="mth" font-size="9" dy="3">remaining</tspan>';
}
// ---- Hodogram V2-V1 MVAB ----
{
  const a=makeAxes('hodogram-v2v1-mvab',672.8,83.4,1127,537.7,-60,30,-45,45);
  xTicks(a,h1XTicks,h1XLabels,{fs:16,grid:true,dy:25});
  yTicks(a,h1YTicks,h1YLabels,{fs:16,grid:true});
  line(a,h1bx,h1by,'#0000ff',2,'b-alfven-path');
  dots(a,h1bx,h1by,'#0000ff',3.5,'b-alfven-markers');
  line(a,h1rx,h1ry,'#ff0000',2,'v-remaining-path');
  dots(a,h1rx,h1ry,'#ff0000',3.5,'v-remaining-markers');
  frame(a);
  hodoLegend(a.axis,-556,'hodo1');
}
// ---- Hodogram V3-V1 MVAB ----
{
  const a=makeAxes('hodogram-v3v1-mvab',1229,83.4,1683,537.7,-50,30,-40,40);
  xTicks(a,h3XTicks,h3XLabels,{fs:16,grid:true,dy:25});
  yTicks(a,h3YTicks,h3YLabels,{fs:16,grid:true});
  line(a,h3bx,h3by,'#0000ff',2,'b-alfven-path');
  dots(a,h3bx,h3by,'#0000ff',3.5,'b-alfven-markers');
  line(a,h3rx,h3ry,'#ff0000',2,'v-remaining-path');
  dots(a,h3rx,h3ry,'#ff0000',3.5,'v-remaining-markers');
  frame(a);
  hodoLegend(a.axis,0,'hodo2');
}
// ---- Walen test ----
{
  const a=makeAxes('walen-test',116.5,661.5,571,1115.7,-30.5,51.2,-30.5,51);
  dots(a,walenGreen.map(p=>p[0]),walenGreen.map(p=>p[1]),'#008000',5.6,'walen-green-points');
  dots(a,walenRed.map(p=>p[0]),walenRed.map(p=>p[1]),'#ff0000',5.6,'walen-red-points');
  dots(a,walenBlue.map(p=>p[0]),walenBlue.map(p=>p[1]),'#0000ff',5.6,'walen-blue-points');
  const fx=[a.xmin,a.xmax];
  line(a,fx,fx.map(x=>walenSlope*x+walenIntercept),'#000',2.5,'walen-fit-line','14,8');
  xTicks(a,walenXTicks,walenXLabels,{fs:16,dy:22});
  yTicks(a,walenYTicks,walenYLabels,{fs:16,gap:8});
  frame(a);
  const bg=mk('g',{},a.axis); nm(bg,'walen-stats-box');
  legendBox(bg,125,668.9,263,717.5,'walen-stats-frame');
  txt(bg,130,690,'slope = 0.062',18.5,'start','walen-slope-text');
  const t=mk('text',{x:130,y:712,'font-size':18.5},bg); nm(t,'walen-r-text');
  t.innerHTML='<tspan class="mth">r</tspan> = 0.218';
}
// ---- Hodograms MVAV ----
{
  const a=makeAxes('hodogram-v2v1-mvav',672.7,661.8,1126.4,1115.7,-22.4,27.5,-20,30);
  xTicks(a,mvavXTicks,mvavXLabels,{fs:16,grid:true,dy:22});
  yTicks(a,mvavYTicks,mvavYLabels,{fs:16,grid:true});
  line(a,h4x,h4y,'#0000ff',2,'mvav-v2-path');
  dots(a,h4x,h4y,'#0000ff',3.5,'mvav-v2-markers');
  frame(a);
}
{
  const a=makeAxes('hodogram-v3v1-mvav',1229,661.8,1682,1115.7,-25,25,-20,30);
  xTicks(a,mvavXTicks,mvavXLabels,{fs:16,grid:true,dy:22});
  yTicks(a,mvavYTicks,mvavYLabels,{fs:16,grid:true});
  line(a,h5x,h5y,'#0000ff',2,'mvav-v3-path');
  dots(a,h5x,h5y,'#0000ff',3.5,'mvav-v3-markers');
  frame(a);
}
// ---- Time series ----
const TSX0=116.7, TSX1=1683, TSH=222;
function ts(name,top,ymin,ymax,yt,yl){
  const a=makeAxes(name,TSX0,top,TSX1,top+TSH,0,107,ymin,ymax);
  return a;
}
function tsFinish(a,yt,yl){
  xTicks(a,timeTicks,timeLabels,{fs:16,dy:23});
  yTicks(a,yt,yl,{fs:16});
  frame(a);
}
function tsLegend(a,x0,y0,x1,y1,entries,lx0,lx1,tx,prefix){
  const lg=mk('g',{},a.axis); nm(lg,prefix+'-legend');
  legendBox(lg,x0,y0,x1,y1,prefix+'-legend-box');
  entries.forEach(e=>{
    const l=mk('line',{x1:lx0,x2:lx1,y1:e.y,y2:e.y,stroke:e.c,'stroke-width':2},lg);
    nm(l,prefix+'-legend-swatch');
    const t=mk('text',{x:tx,y:e.y+5,'font-size':14,'text-anchor':'end'},lg);
    nm(t,prefix+'-legend-label');
    t.innerHTML=e.t;
  });
}
function zeroLine(a){
  line(a,[0,107],[0,0],'#000',1.2,a.name+'-zero-line','12,10');
}
{
  const a=ts('mag-gse-chart',1305,-6,8);
  zeroLine(a);
  line(a,idx(bxGse),bxGse,'#ff0000',2,'bx-gse-line');
  line(a,idx(byGse),byGse,'#008000',2,'by-gse-line');
  line(a,idx(bzGse),bzGse,'#0000ff',2,'bz-gse-line');
  tsFinish(a,magYTicks,magYLabels);
  tsLegend(a,1604.7,1311.8,1676,1383.3,[{c:'#ff0000',t:'Bx',y:1324.8},{c:'#008000',t:'By',y:1347},{c:'#0000ff',t:'Bz',y:1369.6}],1614,1636,1668,'mag-gse');
}
{
  const a=ts('mag-fluxrope-chart',1639,-6,8);
  zeroLine(a);
  line(a,idx(bxFr),bxFr,'#ff0000',2,'bx-fluxrope-line');
  line(a,idx(byFr),byFr,'#008000',2,'by-fluxrope-line');
  line(a,idx(bzFr),bzFr,'#0000ff',2,'bz-fluxrope-line');
  line(a,idx(bmagFr),bmagFr,'#000',2,'bmag-fluxrope-line');
  tsFinish(a,magYTicks,magYLabels);
  tsLegend(a,1600.7,1645.5,1676,1739.2,[{c:'#ff0000',t:"Bx'",y:1658.9},{c:'#008000',t:"By'",y:1680.7},{c:'#0000ff',t:"Bz'",y:1702.9},{c:'#000',t:'|B|',y:1724.7}],1610,1632,1668,'mag-fluxrope');
}
{
  const a=ts('velocity-chart',1971,-400,50);
  line(a,idx(vxGse),vxGse,'#ff0000',2,'vx-line');
  line(a,idx(vyGse),vyGse,'#008000',2,'vy-line');
  line(a,idx(vzGse),vzGse,'#0000ff',2,'vz-line');
  tsFinish(a,velYTicks,velYLabels);
  tsLegend(a,1604.3,1979.6,1676,2050.6,[{c:'#ff0000',t:'Vx',y:1991.3},{c:'#008000',t:'Vy',y:2013.6},{c:'#0000ff',t:'Vz',y:2036.5}],1614,1636,1668,'velocity');
}
{
  const a=ts('beta-chart',2306,0,5);
  line(a,idx(betaP),betaP,'#0000ff',2,'beta-p-line');
  tsFinish(a,betaYTicks,betaYLabels);
  tsLegend(a,1608,2313,1676,2347,[{c:'#0000ff',t:'<tspan class="mth">β</tspan><tspan class="mth" font-size="9" dy="3">p</tspan>',y:2330}],1616,1638,1668,'beta');
}
{
  const a=ts('density-chart',2639,0,40);
  line(a,npTimes,npVals,'#0000ff',2,'np-line');
  tsFinish(a,npYTicks,npYLabels);
}
{
  const a=ts('temperature-chart',2972,0,0.5);
  line(a,idx(tpVals),tpVals,'#0000ff',2,'tp-line');
  tsFinish(a,tpYTicks,tpYLabels);
  tsLegend(a,123,2979.5,195,3006.7,[{c:'#0000ff',t:'Tp',y:2992.8}],134,156,188,'temperature');
}
</script>
</body></html>
